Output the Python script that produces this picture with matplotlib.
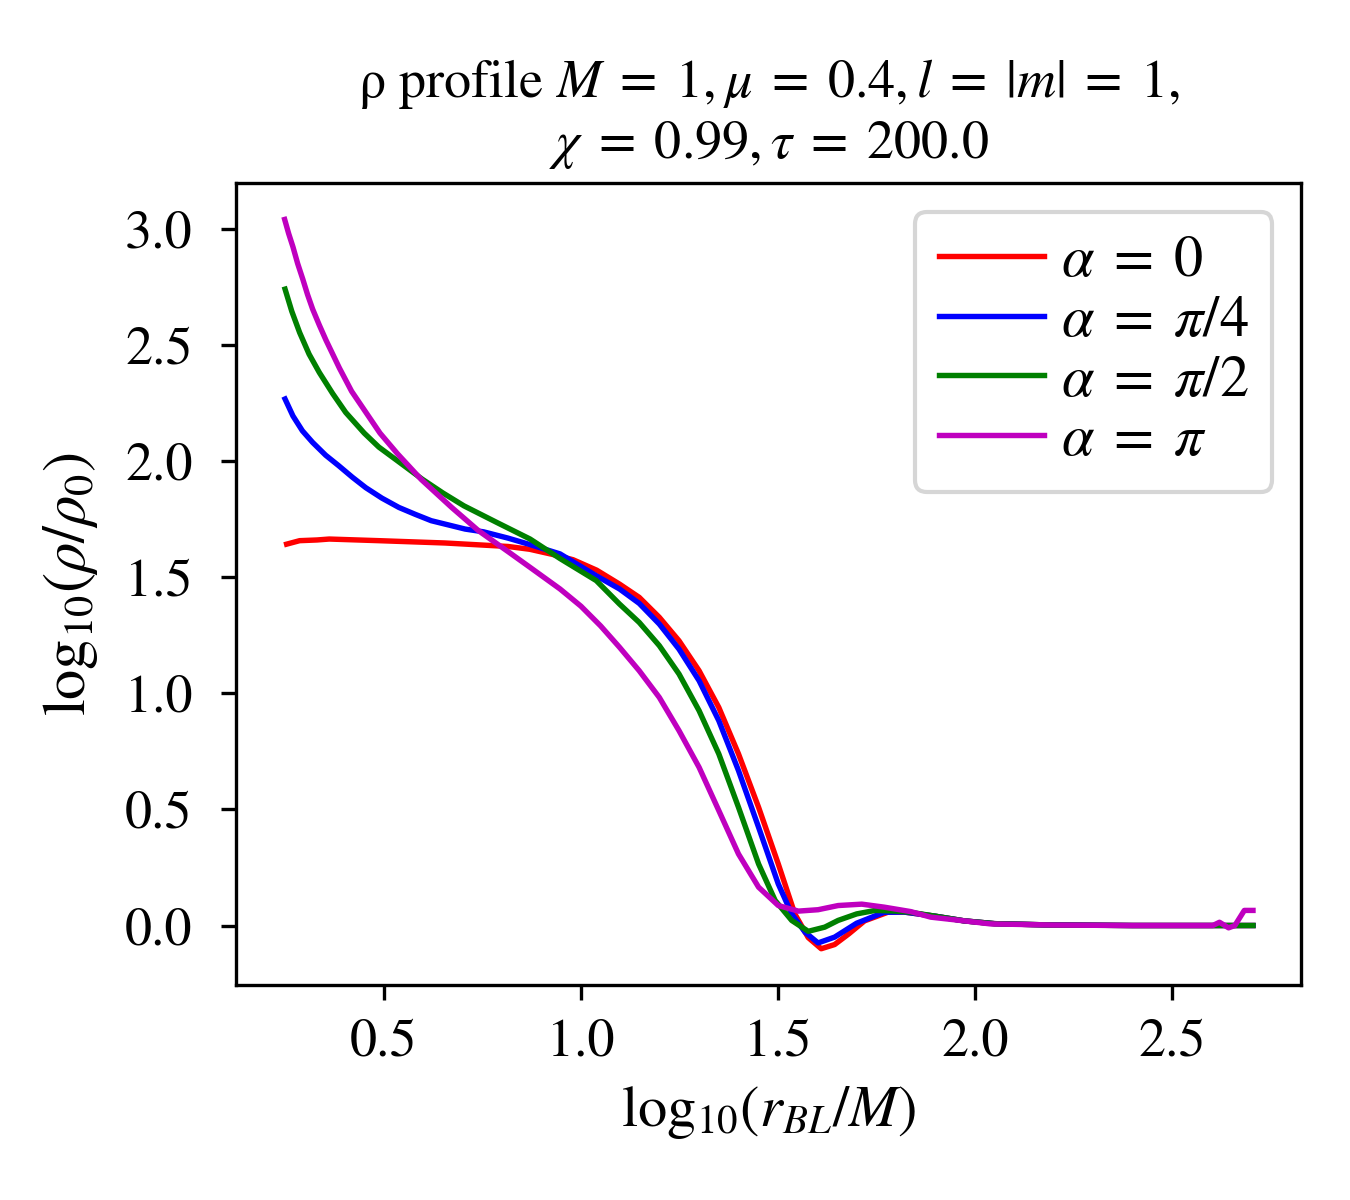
import matplotlib
matplotlib.use("Agg")
import matplotlib.pyplot as plt

plt.rcParams['font.family'] = 'STIXGeneral'
plt.rcParams['mathtext.fontset'] = 'stix'

# log10(r_BL/M) and log10(rho/rho0)
x_a0 = [0.253, 0.286, 0.33, 0.361, 0.487, 0.655, 0.815, 0.87, 0.93, 0.98, 1.04, 1.098,
        1.148, 1.199, 1.249, 1.300, 1.350, 1.400, 1.451, 1.501, 1.543, 1.577, 1.610,
        1.644, 1.68, 1.72, 1.779, 1.82, 1.90, 1.973, 2.05, 2.175, 2.40, 2.706]
y_a0 = [1.642, 1.657, 1.66, 1.664, 1.657, 1.647, 1.632, 1.62, 1.597, 1.575, 1.53, 1.47,
        1.413, 1.327, 1.226, 1.097, 0.939, 0.739, 0.509, 0.265, 0.050, -0.052, -0.100,
        -0.082, -0.036, 0.02, 0.057, 0.058, 0.04, 0.02, 0.008, 0.003, 0.0, 0.0]

x_a1 = [0.249, 0.269, 0.293, 0.319, 0.352, 0.385, 0.42, 0.454, 0.495, 0.538, 0.58, 0.62,
        0.706, 0.753, 0.815, 0.871, 0.947, 1.04, 1.098, 1.148, 1.199, 1.249, 1.300,
        1.350, 1.400, 1.451, 1.501, 1.535, 1.569, 1.602, 1.644, 1.70, 1.77, 1.82, 1.90,
        1.973, 2.05, 2.175, 2.40, 2.706]
y_a1 = [2.267, 2.194, 2.13, 2.08, 2.025, 1.98, 1.93, 1.885, 1.84, 1.80, 1.77, 1.743,
        1.707, 1.695, 1.668, 1.64, 1.60, 1.505, 1.449, 1.387, 1.298, 1.19, 1.054,
        0.882, 0.667, 0.423, 0.179, 0.05, -0.029, -0.075, -0.05, 0.01, 0.057, 0.058, 0.04,
        0.02, 0.008, 0.003, 0.0, 0.0]

x_a2 = [0.249, 0.266, 0.286, 0.31, 0.336, 0.37, 0.403, 0.45, 0.487, 0.535, 0.597, 0.65,
        0.703, 0.787, 0.871, 0.947, 1.039, 1.098, 1.148, 1.199, 1.249, 1.300, 1.350,
        1.400, 1.451, 1.493, 1.535, 1.577, 1.619, 1.653, 1.70, 1.747, 1.80, 1.837, 1.90,
        1.973, 2.05, 2.20, 2.40, 2.706]
y_a2 = [2.74, 2.645, 2.553, 2.46, 2.381, 2.29, 2.209, 2.12, 2.06, 2.0, 1.922, 1.862,
        1.807, 1.735, 1.664, 1.58, 1.485, 1.384, 1.305, 1.205, 1.083, 0.925, 0.739,
        0.509, 0.265, 0.108, 0.022, -0.025, -0.007, 0.022, 0.05, 0.065, 0.062, 0.057, 0.04,
        0.02, 0.008, 0.002, 0.0, 0.0]

x_a3 = [0.248, 0.258, 0.269, 0.281, 0.294, 0.306, 0.319, 0.336, 0.353, 0.37, 0.387,
        0.418, 0.45, 0.49, 0.535, 0.595, 0.672, 0.74, 0.815, 0.871, 0.947, 1.0, 1.05,
        1.098, 1.148, 1.199, 1.249, 1.300, 1.350, 1.400, 1.451, 1.501, 1.552, 1.602,
        1.653, 1.713, 1.77, 1.837, 1.888, 1.973, 2.039, 2.20, 2.40, 2.604, 2.621, 2.644,
        2.66, 2.684, 2.706]
y_a3 = [3.04, 2.98, 2.922, 2.85, 2.783, 2.717, 2.654, 2.585, 2.52, 2.46, 2.40,
        2.30, 2.22, 2.12, 2.03, 1.92, 1.80, 1.70, 1.61, 1.542, 1.449, 1.375, 1.29,
        1.198, 1.097, 0.982, 0.839, 0.681, 0.495, 0.308, 0.165, 0.086, 0.062, 0.068,
        0.086, 0.092, 0.079, 0.06, 0.036, 0.02, 0.007, 0.002, 0.0, 0.0, 0.014, -0.01,
        0.0, 0.065, 0.065]

labels = [r'$\alpha\;=\;0$', r'$\alpha\;=\;\pi/4$', r'$\alpha\;=\;\pi/2$', r'$\alpha\;=\;\pi$']
colors = ['r', 'b', 'g', 'm']

fig, ax = plt.subplots(figsize=(4.5, 4), dpi=300)
fig.subplots_adjust(left=0.175, right=0.964, top=0.8475, bottom=0.179)

series = [(x_a0, y_a0), (x_a1, y_a1), (x_a2, y_a2), (x_a3, y_a3)]
for (xs, ys), lab, c in zip(series, labels, colors):
    ax.plot(xs, ys, color=c, label=lab, lw=1.3)

ax.tick_params(labelsize=13)
ax.tick_params(axis='y', pad=7)
ax.tick_params(axis='x', pad=4.5)
ax.set_xlabel(r'$\mathrm{log}_{10}(r_{BL}/M)$', fontsize=14)
ax.set_ylabel(r'$\mathrm{log}_{10}(\rho/\rho_0)$', fontsize=14.5, labelpad=6)
ax.set_title('ρ profile $M\\;=\\;1, \\mu\\;=\\;0.4, l\\;=\\;|m|\\;=\\;1$,\n'
             '$\\chi\\;=\\;0.99, \\tau\\;=\\;200.0$', fontsize=13)
ax.legend(loc='upper right', fontsize=14, handlelength=1.8, handletextpad=0.3,
          labelspacing=0.1)

fig.savefig('out.png', dpi=300)
